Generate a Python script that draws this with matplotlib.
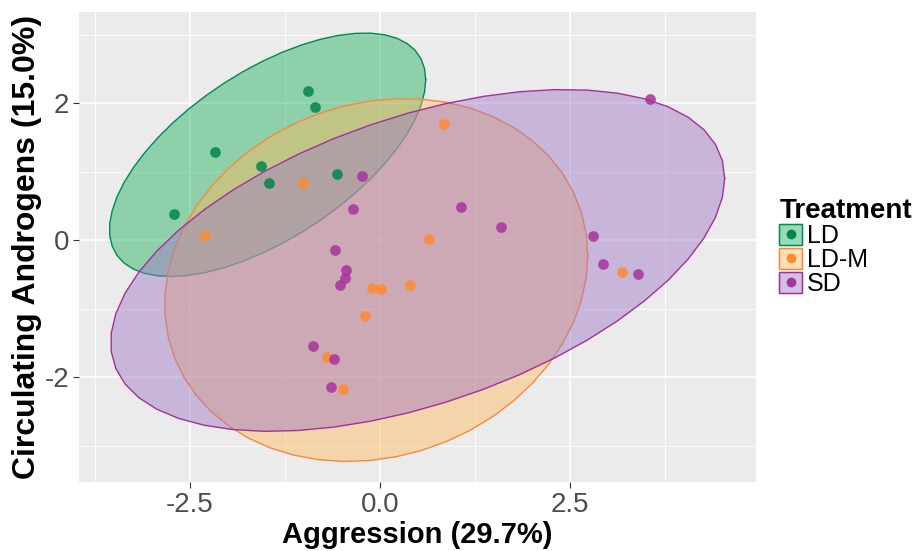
"""
PCA scores (aggression vs circulating androgens) by photoperiod treatment,
with 95% t-distribution confidence ellipses per group.
"""

import numpy as np
import matplotlib
matplotlib.use("Agg")
import matplotlib.pyplot as plt
from matplotlib.patches import Patch
from matplotlib.lines import Line2D
from matplotlib.legend_handler import HandlerTuple

TREATMENTS = ["LD", "LD-M", "SD"]

LD_X = [-0.95, -0.85, -2.17, -1.57, -1.46, -0.56, -2.71]
LD_Y = [2.17, 1.94, 1.28, 1.08, 0.84, 0.97, 0.38]

LDM_X = [0.85, -1.01, -2.30, 0.64, -0.10, 0.01, 0.40, -0.20, -0.69, -0.48, 3.19]
LDM_Y = [1.70, 0.84, 0.06, 0.01, -0.70, -0.72, -0.65, -1.10, -1.71, -2.17, -0.47]

SD_X = [-0.23, -0.36, 1.07, -0.59, -0.45, -0.46, -0.53, -0.88, -0.60, -0.65,
        3.56, 1.59, 2.80, 2.94, 3.40]
SD_Y = [0.93, 0.46, 0.48, -0.14, -0.44, -0.55, -0.66, -1.54, -1.73, -2.14,
        2.06, 0.19, 0.06, -0.35, -0.49]

X_TICKS = [-2.5, 0.0, 2.5]
X_TICK_LABELS = ["-2.5", "0.0", "2.5"]
Y_TICKS = [-2, 0, 2]
Y_TICK_LABELS = ["-2", "0", "2"]

POINT_COLORS = {"LD": "#00874A", "LD-M": "#FF8A2E", "SD": "#A8329C"}
FILL_COLORS = {"LD": "#1DB05B", "LD-M": "#FFB85C", "SD": "#9E76C6"}
EDGE_COLORS = {"LD": "#00875A", "LD-M": "#F58A3C", "SD": "#A3309A"}

BG = "#EBEBEB"


def cov_trob(pts, nu=5, maxit=25, tol=0.01):
    """
    Robust multivariate t location/scatter estimate (same steps as MASS::cov.trob).
    """
    n, p = pts.shape
    wt = np.ones(n)
    loc = pts.mean(axis=0)
    w = np.sqrt(wt)
    X = pts - loc
    for _ in range(maxit):
        w0 = w
        X = pts - loc
        S = (w[:, None] * X).T @ X / w.sum()
        Q = np.einsum("ij,jk,ik->i", X, np.linalg.inv(S), X)
        w = wt * (nu + p) / (nu + Q)
        loc = (w[:, None] * pts).sum(axis=0) / w.sum()
        if np.all(np.abs(w - w0) < tol):
            break
    cov = (w[:, None] * X).T @ X / wt.sum()
    return loc, cov


def ellipse_path(xs, ys, level=0.95, segments=51):
    """
    Confidence ellipse outline, following ggplot2's stat_ellipse(type = "t").
    """
    pts = np.column_stack([xs, ys])
    center, shape = cov_trob(pts)
    dfd = len(xs) - 1
    # qf(level, 2, dfd) has a closed form when dfn = 2
    fq = dfd / 2 * ((1 - level) ** (-2 / dfd) - 1)
    radius = np.sqrt(2 * fq)
    chol = np.linalg.cholesky(shape).T
    angles = np.arange(segments + 1) * 2 * np.pi / segments
    unit = np.column_stack([np.cos(angles), np.sin(angles)])
    return center + radius * unit @ chol


def main() -> None:
    plt.rcParams["font.family"] = ["Liberation Sans", "DejaVu Sans"]
    fig = plt.figure(figsize=(9.15, 5.51), dpi=100)
    ax = fig.add_axes([0.0863, 0.1252, 0.740, 0.853])
    ax.set_facecolor(BG)

    groups = {
        "LD": (LD_X, LD_Y),
        "LD-M": (LDM_X, LDM_Y),
        "SD": (SD_X, SD_Y),
    }

    for z, name in enumerate(TREATMENTS):
        xs, ys = groups[name]
        ell = ellipse_path(xs, ys)
        ax.fill(ell[:, 0], ell[:, 1], color=FILL_COLORS[name], alpha=0.45,
                linewidth=0, zorder=2 + z)
        ax.plot(ell[:, 0], ell[:, 1], color=EDGE_COLORS[name], linewidth=1.0,
                zorder=2 + z)
    for name in TREATMENTS:
        xs, ys = groups[name]
        ax.scatter(xs, ys, s=60, color=POINT_COLORS[name], alpha=0.85,
                   linewidths=0, zorder=10)

    ax.set_xlim(-3.96, 4.95)
    ax.set_ylim(-3.53, 3.33)
    ax.set_xticks(X_TICKS)
    ax.set_xticklabels(X_TICK_LABELS)
    ax.set_xticks([-3.75, -1.25, 1.25, 3.75], minor=True)
    ax.set_yticks(Y_TICKS)
    ax.set_yticklabels(Y_TICK_LABELS)
    ax.set_yticks([-3, -1, 1, 3], minor=True)
    ax.grid(which="major", color="white", linewidth=1.2, zorder=0)
    ax.grid(which="minor", color="white", linewidth=0.6, zorder=0)
    ax.set_axisbelow(True)
    for spine in ax.spines.values():
        spine.set_visible(False)
    ax.tick_params(which="major", length=4, width=0.8, color="#333333",
                   labelsize=20, labelcolor="#4D4D4D", pad=3)
    ax.tick_params(which="minor", length=0)

    ax.set_xlabel("Aggression (29.7%)", fontsize=21, fontweight="bold", labelpad=2)
    ax.set_ylabel("Circulating Androgens (15.0%)", fontsize=23,
                  fontweight="bold", labelpad=2)

    handles = [
        (Patch(facecolor=FILL_COLORS[n], edgecolor=EDGE_COLORS[n], alpha=0.45),
         Patch(facecolor="none", edgecolor=EDGE_COLORS[n], linewidth=1.0),
         Line2D([], [], marker="o", markersize=6, linestyle="",
                color=POINT_COLORS[n]))
        for n in TREATMENTS
    ]
    fig.legend(
        handles, TREATMENTS,
        handler_map={tuple: HandlerTuple(ndivide=1)},
        loc="upper left",
        bbox_to_anchor=(778 / 915, 1 - 197 / 551),
        frameon=False,
        title="Treatment",
        title_fontproperties={"weight": "bold", "size": 20},
        alignment="left",
        fontsize=18,
        handlelength=0.9,
        handleheight=0.9,
        handletextpad=0.2,
        labelspacing=0.0,
        borderpad=0.05,
        borderaxespad=0,
    )

    fig.savefig("out.png", dpi=100)


if __name__ == "__main__":
    main()
